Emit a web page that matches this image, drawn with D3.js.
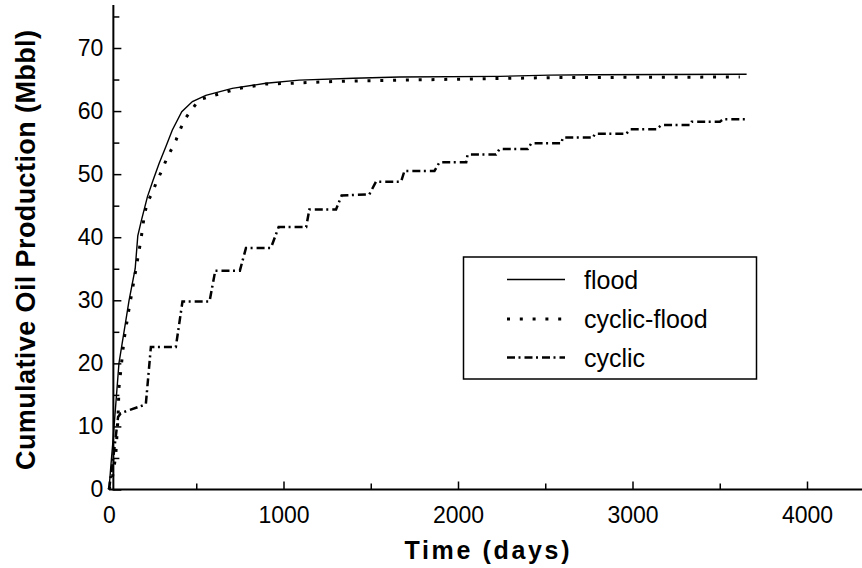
<!DOCTYPE html>
<html>
<head>
<meta charset="utf-8">
<script src="https://cdn.jsdelivr.net/npm/d3@7"></script>
<style>
  body { margin: 0; background: #fff; }
  text { font-family: "Liberation Sans", Arial, sans-serif; fill: #000; }
</style>
</head>
<body>
<div id="chart"></div>
<script>
// data (days, Mbbl)
var floodDays = [0, 10, 23, 29, 57, 115, 150, 165, 185, 220, 252, 287, 325, 363, 417, 478, 555, 706, 899, 1090, 1400, 1665, 2238, 2525, 2772, 3200, 3654];
var floodOil  = [0, 3.5, 7.8, 10, 20, 30, 35, 40.2, 42.6, 46.4, 49.0, 51.7, 54.3, 57.0, 59.9, 61.5, 62.5, 63.6, 64.4, 64.9, 65.2, 65.4, 65.5, 65.7, 65.75, 65.8, 65.85];

var cyclicFloodDays = [0, 20, 38, 52, 57, 86, 115, 153, 184, 201, 218, 247, 270, 298, 327, 384, 413, 442, 516, 603, 746, 901, 1033, 1300, 1665, 2100, 2525, 3000, 3615];
var cyclicFloodOil  = [0, 2, 5.2, 11.5, 16.1, 23.7, 28.7, 34.7, 39.8, 43.2, 45.4, 47.0, 48.6, 50.3, 52.2, 55.4, 57.4, 59.0, 61.8, 62.5, 63.6, 64.3, 64.4, 64.7, 64.9, 65.1, 65.3, 65.35, 65.4];

var cyclicDays = [0, 20, 52, 67, 211, 240, 383, 421, 576, 609, 750, 785, 928, 972, 1130, 1148, 1301, 1333, 1492, 1530, 1674, 1693, 1865, 1894, 2047, 2055, 2218, 2238, 2400, 2420, 2592, 2601, 2774, 2784, 2965, 2985, 3137, 3166, 3329, 3339, 3501, 3519, 3654];
var cyclicOil  = [0, 4, 11.5, 12.1, 13.5, 22.6, 22.6, 29.8, 29.8, 34.7, 34.7, 38.3, 38.3, 41.6, 41.6, 44.4, 44.4, 46.6, 46.8, 48.8, 48.8, 50.5, 50.5, 51.9, 51.9, 53.1, 53.1, 54.0, 54.0, 54.9, 54.9, 55.8, 55.8, 56.4, 56.4, 57.1, 57.1, 57.8, 57.8, 58.3, 58.3, 58.7, 58.7];

var xTicks = [0, 1000, 2000, 3000, 4000];
var xMinorTicks = [500, 1500, 2500, 3500];
var yTicks = [0, 10, 20, 30, 40, 50, 60, 70];
var yMinorTicks = [5, 15, 25, 35, 45, 55, 65, 75];

var seriesNames = ["flood", "cyclic-flood", "cyclic"];

var svgWidth = 862;
var svgHeight = 568;

var svg = d3.select("#chart")
  .append("svg")
  .attr("width", svgWidth)
  .attr("height", svgHeight);

var xScale = d3.scaleLinear()
  .domain([0, 4000])
  .range([109, 807]);

var yScale = d3.scaleLinear()
  .domain([0, 70])
  .range([489.5, 48]);

// axis lines
var yAxisX = xScale(25);
svg.append("line")
  .attr("x1", xScale(0)).attr("x2", svgWidth)
  .attr("y1", yScale(0)).attr("y2", yScale(0))
  .attr("stroke", "#000").attr("stroke-width", 2);
svg.append("line")
  .attr("x1", yAxisX).attr("x2", yAxisX)
  .attr("y1", yScale(0) + 1).attr("y2", yScale(76.8))
  .attr("stroke", "#000").attr("stroke-width", 2);

// x ticks (pointing inward)
var bottomAxis = d3.axisBottom(xScale)
  .tickValues(xTicks)
  .tickFormat(d3.format("d"))
  .tickSizeInner(-8)
  .tickSizeOuter(0)
  .tickPadding(17);
var gx = svg.append("g")
  .attr("transform", `translate(0, ${yScale(0)})`)
  .call(bottomAxis);
gx.select(".domain").remove();

var bottomMinor = d3.axisBottom(xScale)
  .tickValues(xMinorTicks)
  .tickSizeInner(-6)
  .tickSizeOuter(0)
  .tickFormat("");
var gxm = svg.append("g")
  .attr("transform", `translate(0, ${yScale(0)})`)
  .call(bottomMinor);
gxm.select(".domain").remove();

// y ticks (pointing inward)
var leftAxis = d3.axisLeft(yScale)
  .tickValues(yTicks)
  .tickSizeInner(-8)
  .tickSizeOuter(0)
  .tickPadding(10);
var gy = svg.append("g")
  .attr("transform", `translate(${yAxisX}, 0)`)
  .call(leftAxis);
gy.select(".domain").remove();

var leftMinor = d3.axisLeft(yScale)
  .tickValues(yMinorTicks)
  .tickSizeInner(-6)
  .tickSizeOuter(0)
  .tickFormat("");
var gym = svg.append("g")
  .attr("transform", `translate(${yAxisX}, 0)`)
  .call(leftMinor);
gym.select(".domain").remove();

svg.selectAll(".tick line").attr("stroke", "#000").attr("stroke-width", 1.5);
svg.selectAll(".tick text")
  .attr("font-size", "23px")
  .attr("font-family", "Liberation Sans, Arial, sans-serif")
  .attr("fill", "#000");

// axis titles
svg.append("text")
  .attr("x", 487)
  .attr("y", 559)
  .attr("text-anchor", "middle")
  .attr("font-size", "25px")
  .attr("font-weight", "bold")
  .attr("textLength", 165)
  .attr("lengthAdjust", "spacing")
  .text("Time (days)");

svg.append("text")
  .attr("transform", "translate(35, 250) rotate(-90)")
  .attr("text-anchor", "middle")
  .attr("font-size", "27px")
  .attr("font-weight", "bold")
  .attr("textLength", 440)
  .attr("lengthAdjust", "spacing")
  .text("Cumulative Oil Production (Mbbl)");

// curves
var styles = [
  { width: 1.4, dash: null },
  { width: 3, dash: "3,9.8" },
  { width: 2.5, dash: "8,3.5,2,4" }
];
var seriesData = [
  d3.zip(floodDays, floodOil),
  d3.zip(cyclicFloodDays, cyclicFloodOil),
  d3.zip(cyclicDays, cyclicOil)
];

var line = d3.line()
  .x(d => xScale(d[0]))
  .y(d => yScale(d[1]));

seriesData.forEach(function(data, i) {
  svg.append("path")
    .datum(data)
    .attr("d", line)
    .attr("fill", "none")
    .attr("stroke", "#000")
    .attr("stroke-width", styles[i].width)
    .attr("stroke-dasharray", styles[i].dash);
});

// legend
var legend = svg.append("g");
legend.append("rect")
  .attr("x", 463.5)
  .attr("y", 257)
  .attr("width", 293)
  .attr("height", 122)
  .attr("fill", "#fff")
  .attr("stroke", "#000")
  .attr("stroke-width", 1.5);

var legendY = [279.5, 319, 357.5];
seriesNames.forEach(function(name, i) {
  legend.append("line")
    .attr("x1", 507).attr("x2", 565)
    .attr("y1", legendY[i]).attr("y2", legendY[i])
    .attr("stroke", "#000")
    .attr("stroke-width", styles[i].width)
    .attr("stroke-dasharray", styles[i].dash);
  legend.append("text")
    .attr("x", 584)
    .attr("y", legendY[i] + 9)
    .attr("font-size", "25px")
    .text(name);
});
</script>
</body>
</html>
